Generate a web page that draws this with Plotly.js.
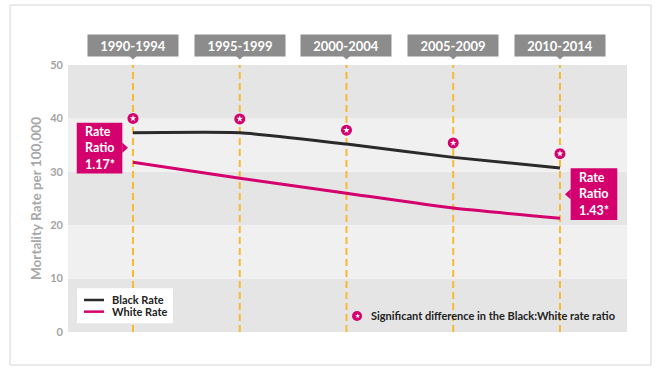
<!DOCTYPE html>
<html>
<head>
<meta charset="utf-8">
<script src="https://cdn.plot.ly/plotly-3.0.1.min.js"></script>
<style>
html,body{margin:0;padding:0;background:#fff;}
#chart{width:661px;height:380px;}
</style>
</head>
<body>
<div id="chart"></div>
<script>
// ---- data ----
var periods = ['1990-1994', '1995-1999', '2000-2004', '2005-2009', '2010-2014'];
var blackRate = [37.3, 37.3, 35.2, 32.7, 30.7];
var whiteRate = [31.8, 28.8, 26.0, 23.2, 21.3];
var sigMarkerLevel = [40.0, 39.9, 37.8, 35.4, 33.4];
var yTicks = [0, 10, 20, 30, 40, 50];
var ratioFirst = '1.17*';
var ratioLast = '1.43*';
var seriesNames = ['Black Rate', 'White Rate'];
var noteText = 'Significant difference in the Black:White rate ratio';
var yTitle = 'Mortality Rate per 100,000';

// ---- styles ----
var MAG = '#d3006e';
var BLK = '#2a2a2a';
var DARK = '#e5e5e5';
var LIGHT = '#f0f0f0';
var ORANGE = '#f8b933';
var HEAD = '#8c8c8c';
var FONT = 'Lato, "Open Sans", sans-serif';
var seriesColors = [BLK, MAG];

var traces = [
  {x: periods, y: blackRate, name: seriesNames[0], type: 'scatter', mode: 'lines', showlegend: false,
   line: {color: BLK, width: 3, shape: 'spline', smoothing: 0.5}, hoverinfo: 'x+y'},
  {x: periods, y: whiteRate, name: seriesNames[1], type: 'scatter', mode: 'lines', showlegend: false,
   line: {color: MAG, width: 3, shape: 'spline', smoothing: 0.5}, hoverinfo: 'x+y'},
  {x: periods, y: sigMarkerLevel, type: 'scatter', mode: 'markers', showlegend: false,
   marker: {symbol: 'circle', size: 11, color: MAG, line: {width: 0}}, hoverinfo: 'skip'},
  {x: periods, y: sigMarkerLevel, type: 'scatter', mode: 'markers', showlegend: false,
   marker: {symbol: 'star', size: 5, color: '#ffffff', line: {width: 0}}, hoverinfo: 'skip'}
];

var shapes = [];
// outer frame
shapes.push({type: 'rect', xref: 'paper', yref: 'paper', x0: -0.1038, x1: 1.0429, y0: -0.1236, y1: 1.2247,
  line: {color: '#d6d6d6', width: 1}, fillcolor: 'rgba(0,0,0,0)', layer: 'below'});
// bands
for (var b = 0; b < yTicks.length - 1; b++) {
  shapes.push({type: 'rect', xref: 'paper', yref: 'y', x0: 0, x1: 1, y0: yTicks[b], y1: yTicks[b + 1],
    fillcolor: (b % 2 === 0) ? DARK : LIGHT, line: {width: 0}, layer: 'below'});
}
// dashed period lines and header pointers
periods.forEach(function (p, i) {
  shapes.push({type: 'line', xref: 'x', yref: 'y', x0: i, x1: i, y0: 0, y1: 51.1,
    line: {color: ORANGE, width: 2, dash: '7px,4px'}, layer: 'below'});
  shapes.push({type: 'path', xref: 'x', yref: 'paper',
    path: 'M ' + (i - 0.045) + ' 1.0375 L ' + i + ' 1.021 L ' + (i + 0.045) + ' 1.0375 Z',
    fillcolor: HEAD, line: {width: 0}});
});
// rate ratio boxes
shapes.push({type: 'rect', xref: 'x', yref: 'y', x0: -0.527, x1: -0.100, y0: 29.7, y1: 39.2,
  fillcolor: MAG, line: {width: 0}});
shapes.push({type: 'path', xref: 'x', yref: 'y',
  path: 'M -0.101 35.5 L -0.047 34.5 L -0.101 33.5 Z', fillcolor: MAG, line: {width: 0}});
shapes.push({type: 'rect', xref: 'x', yref: 'y', x0: 4.100, x1: 4.537, y0: 20.97, y1: 30.65,
  fillcolor: MAG, line: {width: 0}});
shapes.push({type: 'path', xref: 'x', yref: 'y',
  path: 'M 4.101 26.8 L 4.047 25.8 L 4.101 24.8 Z', fillcolor: MAG, line: {width: 0}});
// note icon
shapes.push({type: 'circle', xref: 'paper', yref: 'paper', x0: 0.5081, x1: 0.5260, y0: 0.0412, y1: 0.0787,
  fillcolor: MAG, line: {width: 0}});
// legend box and samples
shapes.push({type: 'rect', xref: 'paper', yref: 'paper', x0: 0.0161, x1: 0.1878, y0: 0.0326, y1: 0.1637,
  fillcolor: '#ffffff', line: {width: 0}});
var legendRows = [0.1199, 0.0762];
seriesNames.forEach(function (n, k) {
  shapes.push({type: 'line', xref: 'paper', yref: 'paper', x0: 0.0286, x1: 0.0644, y0: legendRows[k], y1: legendRows[k],
    line: {color: seriesColors[k], width: 2.5}});
});

var annotations = [];
periods.forEach(function (p, i) {
  annotations.push({xref: 'x', yref: 'paper', x: i, y: 1.0735, text: '<b>' + p + '</b>', showarrow: false,
    xanchor: 'center', yanchor: 'middle', width: 90, height: 21, bgcolor: HEAD, borderpad: 0,
    font: {family: FONT, size: 13, color: '#ffffff'}});
});
annotations.push({xref: 'x', yref: 'y', x: -0.3135, y: 34.45, text: '<b>Rate<br>Ratio<br>' + ratioFirst + '</b>',
  showarrow: false, align: 'left', xanchor: 'center', yanchor: 'middle',
  font: {family: FONT, size: 12.5, color: '#ffffff'}});
annotations.push({xref: 'x', yref: 'y', x: 4.3185, y: 25.81, text: '<b>Rate<br>Ratio<br>' + ratioLast + '</b>',
  showarrow: false, align: 'left', xanchor: 'center', yanchor: 'middle',
  font: {family: FONT, size: 12.5, color: '#ffffff'}});
annotations.push({xref: 'paper', yref: 'paper', x: 0.5171, y: 0.0605, text: '★', showarrow: false,
  xanchor: 'center', yanchor: 'middle', font: {family: 'DejaVu Sans', size: 6, color: '#ffffff'}});
annotations.push({xref: 'paper', yref: 'paper', x: 0.538, y: 0.0605, text: '<b>' + noteText + '</b>', showarrow: false,
  xanchor: 'left', yanchor: 'middle', font: {family: FONT, size: 11, color: '#222222'}});
seriesNames.forEach(function (n, k) {
  annotations.push({xref: 'paper', yref: 'paper', x: 0.0751, y: legendRows[k], text: '<b>' + n + '</b>', showarrow: false,
    xanchor: 'left', yanchor: 'middle', font: {family: FONT, size: 11, color: '#222222'}});
});

var layout = {
  width: 661, height: 380,
  margin: {l: 68, r: 34, t: 65, b: 48, pad: 0},
  paper_bgcolor: '#ffffff', plot_bgcolor: 'rgba(0,0,0,0)',
  font: {family: FONT},
  showlegend: false,
  xaxis: {type: 'category', range: [-0.609, 4.628], showticklabels: false, showgrid: false,
    zeroline: false, showline: false, ticks: '', fixedrange: true},
  yaxis: {range: [0, 50], tickvals: yTicks, showgrid: false, zeroline: false, showline: false, ticks: '',
    ticklabelstandoff: 4,
    tickfont: {family: FONT, size: 11, color: '#a3a3a3', weight: 'bold'},
    title: {text: yTitle, standoff: 5, font: {family: FONT, size: 13.5, color: '#a8a8a8', weight: 'bold'}},
    fixedrange: true},
  shapes: shapes,
  annotations: annotations
};

Plotly.newPlot('chart', traces, layout, {displayModeBar: false, staticPlot: true});
</script>
</body>
</html>
